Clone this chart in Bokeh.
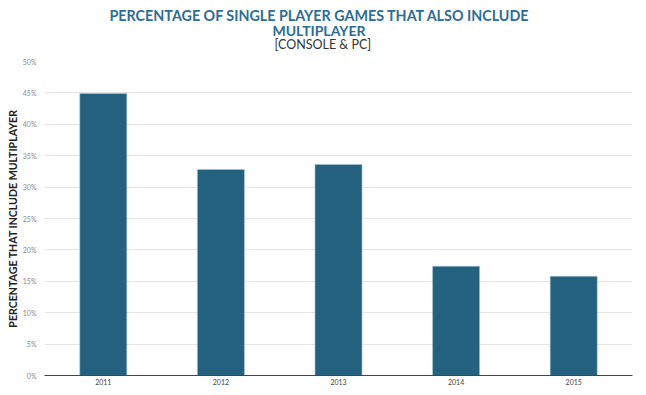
from bokeh.plotting import figure
from bokeh.models import Title, NumeralTickFormatter, FixedTicker, Range1d
from bokeh.embed import file_html
from bokeh.resources import INLINE

years = ["2011", "2012", "2013", "2014", "2015"]
share = [0.449, 0.328, 0.336, 0.174, 0.158]
y_ticks = [0, 0.05, 0.10, 0.15, 0.20, 0.25, 0.30, 0.35, 0.40, 0.45, 0.50]
title_lines = ["PERCENTAGE OF SINGLE PLAYER GAMES THAT ALSO INCLUDE", "MULTIPLAYER"]
subtitle = "[CONSOLE & PC]"

FONT = "Lato"

p = figure(x_range=years, frame_width=588, frame_height=314, output_backend="svg",
           toolbar_location=None, min_border_left=44, min_border_right=2,
           min_border_bottom=12, min_border_top=20)
p.y_range = Range1d(0, 0.5)

p.vbar(x=years, top=share, width=0.4, fill_color="#23617f",
       line_color="#a9c4d4", line_width=0.6)

p.add_layout(Title(text=subtitle, align="left", offset=230, vertical_align="top",
                   text_font=FONT, text_font_size="12.5px", text_font_style="normal",
                   text_color="#333333", standoff=15), "above")
p.add_layout(Title(text=title_lines[1], align="left", offset=228,
                   text_font=FONT, text_font_size="14px", text_font_style="bold",
                   text_color="#2c6d93", standoff=-18), "above")
p.add_layout(Title(text=title_lines[0], align="left", offset=65,
                   text_font=FONT, text_font_size="14.3px", text_font_style="bold",
                   text_color="#2c6d93", standoff=9), "above")

p.yaxis.ticker = FixedTicker(ticks=y_ticks)
p.yaxis.formatter = NumeralTickFormatter(format="0%")
p.yaxis.axis_line_color = None
p.yaxis.major_tick_line_color = None
p.yaxis.minor_tick_line_color = None
p.yaxis.major_tick_out = 0
p.yaxis.major_tick_in = 0
p.yaxis.minor_tick_out = 0
p.yaxis.major_label_text_font = FONT
p.yaxis.major_label_text_font_size = "7px"
p.yaxis.major_label_text_color = "#888888"
p.yaxis.major_label_standoff = 8
p.yaxis.axis_label = "PERCENTAGE THAT INCLUDE MULTIPLAYER"
p.yaxis.axis_label_text_font = FONT
p.yaxis.axis_label_text_font_size = "10.6px"
p.yaxis.axis_label_text_font_style = "bold"
p.yaxis.axis_label_text_color = "#222222"
p.yaxis.axis_label_standoff = 1

p.xaxis.axis_line_color = "#444444"
p.xaxis.axis_line_width = 1.2
p.xaxis.major_tick_line_color = None
p.xaxis.minor_tick_line_color = None
p.xaxis.major_tick_out = 0
p.xaxis.major_tick_in = 0
p.xaxis.minor_tick_out = 0
p.xaxis.major_label_text_font = FONT
p.xaxis.major_label_text_font_size = "7px"
p.xaxis.major_label_text_color = "#444444"
p.xaxis.major_label_standoff = 3

p.xgrid.grid_line_color = None
p.ygrid.grid_line_color = "#e3e3e3"
p.ygrid.grid_line_width = 1
p.outline_line_color = None
p.x_range.range_padding = 0

open("out.html", "w").write(file_html(p, INLINE))
